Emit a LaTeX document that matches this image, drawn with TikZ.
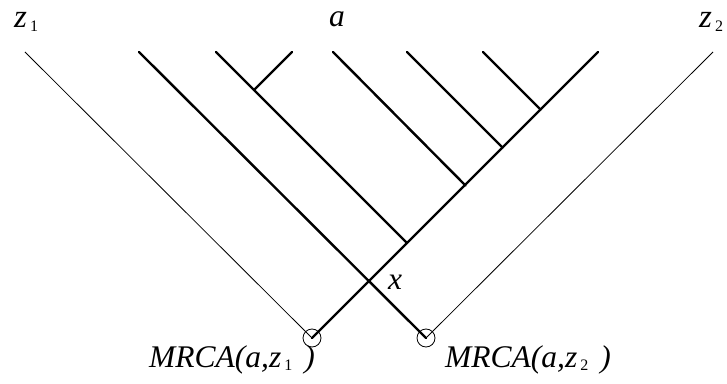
\documentclass[tikz,border=0pt]{standalone}
\usepackage{fontspec}
\setmainfont{Liberation Serif}
\usetikzlibrary{positioning}
\newcommand{\lowidx}[1]{\hspace{3pt}\raisebox{-0.12em}{\fontsize{16}{16}\selectfont\upshape #1}}

\begin{document}
\begin{tikzpicture}[
  x=1pt, y=1pt,
  lin/.style={line width=2.4pt, line cap=round},
  thinlin/.style={line width=0.8pt},
  mrca/.style={circle, draw, line width=0.8pt, minimum size=18pt, inner sep=0pt},
  lbl/.style={font=\fontsize{31.5}{34}\selectfont\itshape, inner sep=0pt},
  biglbl/.style={font=\fontsize{33}{36}\selectfont\itshape, inner sep=0pt},
]
\useasboundingbox (0,0) rectangle (727,383);
% ---- tips (top row) ----
\coordinate (tz1) at (25,331);
\coordinate (tA)  at (139,331);
\coordinate (tB)  at (216,331);
\coordinate (tB2) at (292,331);
\coordinate (tC)  at (333,331);
\coordinate (tD)  at (407,331);
\coordinate (tE)  at (483,331);
\coordinate (tF)  at (598,331);
\coordinate (tz2) at (713,331);
% ---- internal nodes on the right-hand lineage ----
\coordinate (jB2) at (254,293);
\coordinate (jB)  at (407,140);
\coordinate (jC)  at (465.5,197.5);
\coordinate (jD)  at (502.5,235.5);
\coordinate (jE)  at (540.5,273.5);
% ---- MRCA circles ----
\node[mrca] (m1) at (312,45) {};
\node[mrca] (m2) at (426,45) {};

% ---- labels ----
\node[biglbl, anchor=base west] (z1lbl) at (14,355) {z\lowidx{1}};
\node[biglbl, anchor=base west] (z2lbl) at (699,355) {z\lowidx{2}};
\node[lbl, anchor=base] (albl) at (337,356) {a};
\node[lbl, anchor=base west] (xlbl) at (388,94) {x};
\node[lbl, anchor=base west] (m1lbl) at (149,16) {MRCA(a,z\lowidx{1}\hspace{12pt})};
\node[lbl, anchor=base west] (m2lbl) at (445,16) {MRCA(a,z\lowidx{2}\hspace{12pt})};

% ---- outgroup lineages ----
\draw[thinlin] (tz1) -- (m1.center);
\draw[thinlin] (tz2) -- (m2.center);

% ---- clade of a ----
\draw[lin] (tA) -- (m2.center);
\draw[lin] (tF) -- (m1.center);
\draw[lin] (tB) -- (jB);
\draw[lin] (tB2) -- (jB2);
\draw[lin] (tC) -- (jC);
\draw[lin] (tD) -- (jD);
\draw[lin] (tE) -- (jE);
\end{tikzpicture}
\end{document}
